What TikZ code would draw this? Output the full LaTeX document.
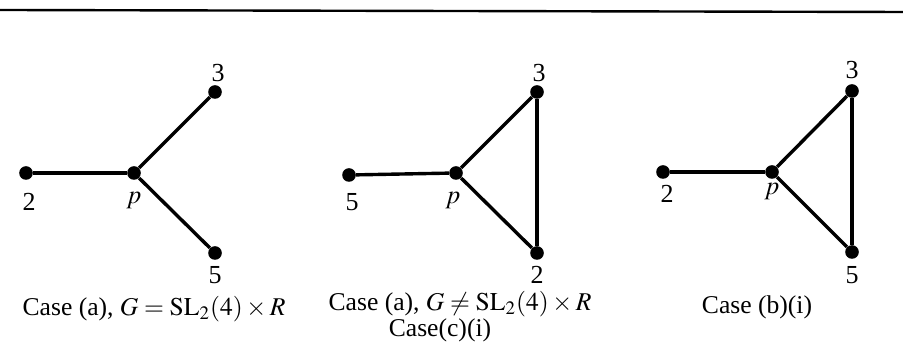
\documentclass[tikz,border=0pt]{standalone}
\usepackage{mathptmx}
\usepackage{fontspec}
\setmainfont{Liberation Serif}
\begin{document}
\begin{tikzpicture}[x=0.5pt,y=-0.5pt,
  vtx/.style={circle,fill=black,inner sep=0pt,minimum size=6.8pt},
  edge/.style={line width=1.7pt},
  lbl/.style={font=\fontsize{13}{15}\selectfont,inner sep=0pt},
  captext/.style={font=\fontsize{12.8}{15}\selectfont,inner sep=0pt}
]
\useasboundingbox (0,0) rectangle (903,356);
\coordinate (ruleL) at (0,10);
\coordinate (ruleR) at (903,12);
\draw[line width=1.2pt] (ruleL) -- (ruleR);

% case (a), G = SL_2(4) x R
\node[vtx] (a2) at (26,173) {};
\node[vtx] (ap) at (134,173) {};
\node[vtx] (a3) at (215,92) {};
\node[vtx] (a5) at (215,253) {};
\draw[edge] (a2) -- (ap);
\draw[edge] (ap) -- (a3);
\draw[edge] (ap) -- (a5);
\node[lbl] (la2) at (29,202) {2};
\node[lbl] (lap) at (134,201) {$p$};
\node[lbl] (la3) at (218,73) {3};
\node[lbl] (la5) at (215,275) {5};
\node[captext] (capa) at (154,309) {Case (a), $G=\mathrm{SL}_2(4)\times R$};

% case (a), G != SL_2(4) x R and case (c)(i)
\node[vtx] (b5) at (349,175) {};
\node[vtx] (bp) at (456,173) {};
\node[vtx] (b3) at (537,92) {};
\node[vtx] (b2) at (537,253) {};
\draw[edge] (b5) -- (bp);
\draw[edge] (bp) -- (b3);
\draw[edge] (bp) -- (b2);
\draw[edge] (b3) -- (b2);
\node[lbl] (lb5) at (352,202) {5};
\node[lbl] (lbp) at (453,201) {$p$};
\node[lbl] (lb3) at (539,73) {3};
\node[lbl] (lb2) at (537,275) {2};
\node[captext] (capb) at (460,304) {Case (a), $G\neq\mathrm{SL}_2(4)\times R$};
\node[captext] (capc) at (440,330) {Case(c)(i)};

% case (b)(i)
\node[vtx] (c2) at (663,172) {};
\node[vtx] (cp) at (772,172) {};
\node[vtx] (c3) at (852,91) {};
\node[vtx] (c5) at (852,252) {};
\draw[edge] (c2) -- (cp);
\draw[edge] (cp) -- (c3);
\draw[edge] (cp) -- (c5);
\draw[edge] (c3) -- (c5);
\node[lbl] (lc2) at (667,194) {2};
\node[lbl] (lcp) at (772,192) {$p$};
\node[lbl] (lc3) at (852,70) {3};
\node[lbl] (lc5) at (852,275) {5};
\node[captext] (capd) at (757,307) {Case (b)(i)};
\end{tikzpicture}
\end{document}
